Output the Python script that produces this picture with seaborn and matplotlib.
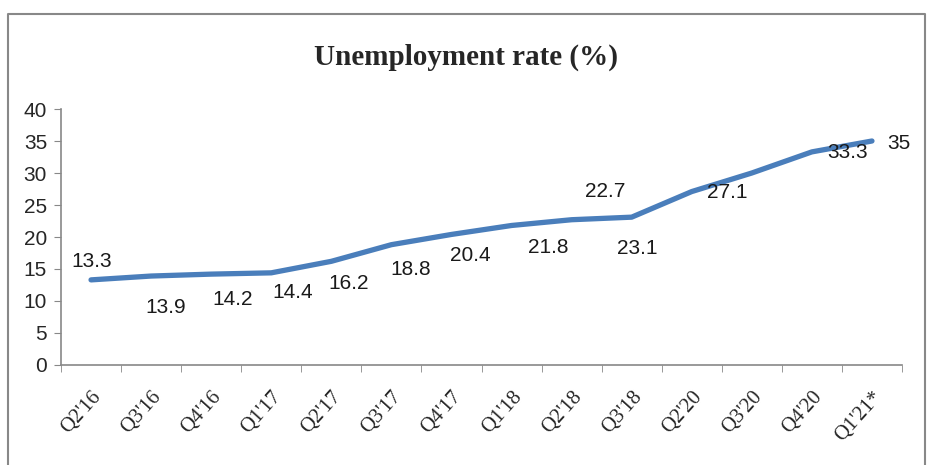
import matplotlib
matplotlib.use("Agg")
import matplotlib.pyplot as plt
from matplotlib.lines import Line2D
import seaborn as sns
import pandas as pd

# Dane
quarters = ["Q2'16", "Q3'16", "Q4'16", "Q1'17", "Q2'17", "Q3'17", "Q4'17",
            "Q1'18", "Q2'18", "Q3'18", "Q2'20", "Q3'20", "Q4'20", "Q1'21*"]
rate = [13.3, 13.9, 14.2, 14.4, 16.2, 18.8, 20.4, 21.8, 22.7, 23.1, 27.1, 30.0, 33.3, 35.0]
labels = ["13.3", "13.9", "14.2", "14.4", "16.2", "18.8", "20.4", "21.8",
          "22.7", "23.1", "27.1", "", "33.3", "35"]

# przesunięcia etykiet (piksele)
label_offsets = [(1, 18), (15, -31), (21, -25), (21, -20), (17, -22), (19, -25),
                 (19, -21), (37, -22), (34, 28), (6, -31), (35, -1), (0, 0),
                 (36, -1), (27, -2)]

df = pd.DataFrame({"quarter": quarters, "rate": rate, "pos": range(len(quarters))})

sns.set_style("white")
plt.rcParams['font.family'] = ['Liberation Sans Narrow', 'Liberation Sans', 'DejaVu Sans']

W, H = 932, 465
fig = plt.figure(figsize=(W / 100, H / 100), dpi=100)
ax = fig.add_axes([61 / W, 1 - 365 / H, (902 - 61) / W, (365 - 109) / H])

sns.lineplot(data=df, x="pos", y="rate", ax=ax, color="#4A7EBB", linewidth=3.8)

for i, (v, lab) in enumerate(zip(rate, labels)):
    if not lab:
        continue
    dx, dy = label_offsets[i]
    ax.annotate(lab, (i, v), xytext=(dx, dy), textcoords="offset pixels",
                ha="center", va="center", fontsize=15, color="#1a1a1a")

ax.set_xlim(-0.5, len(quarters) - 0.5)
ax.set_ylim(0, 40)
ax.set_yticks(range(0, 41, 5))
ax.set_xticks(range(len(quarters)))
ax.set_xticks([i - 0.5 for i in range(len(quarters) + 1)], minor=True)
ax.set_xticklabels(quarters, rotation=48, ha="right", rotation_mode="anchor",
                   family="Liberation Serif", fontsize=15)
ax.tick_params(axis="x", which="major", length=0, pad=16)
ax.tick_params(axis="x", which="minor", length=5, color="#888888", direction="out", bottom=True)
ax.tick_params(axis="y", length=5, color="#888888", direction="out", left=True, labelsize=15, pad=5)
ax.set_xlabel("")
ax.set_ylabel("")
for s in ["top", "right"]:
    ax.spines[s].set_visible(False)
for s in ["left", "bottom"]:
    ax.spines[s].set_color("#888888")
    ax.spines[s].set_linewidth(1.2)

fig.text(466 / W, 1 - 57 / H, "Unemployment rate (%)", ha="center", va="center",
         family="Liberation Serif", fontweight="bold", fontsize=21)

# ramka
fx0, fx1, fy0, fy1 = 8 / W, 925 / W, 0, 1 - 14 / H
fig.add_artist(Line2D([fx0, fx0, fx1, fx1], [fy0, fy1, fy1, fy0],
                      transform=fig.transFigure, color="#888888", linewidth=1.5))

fig.savefig("out.png", dpi=100)
